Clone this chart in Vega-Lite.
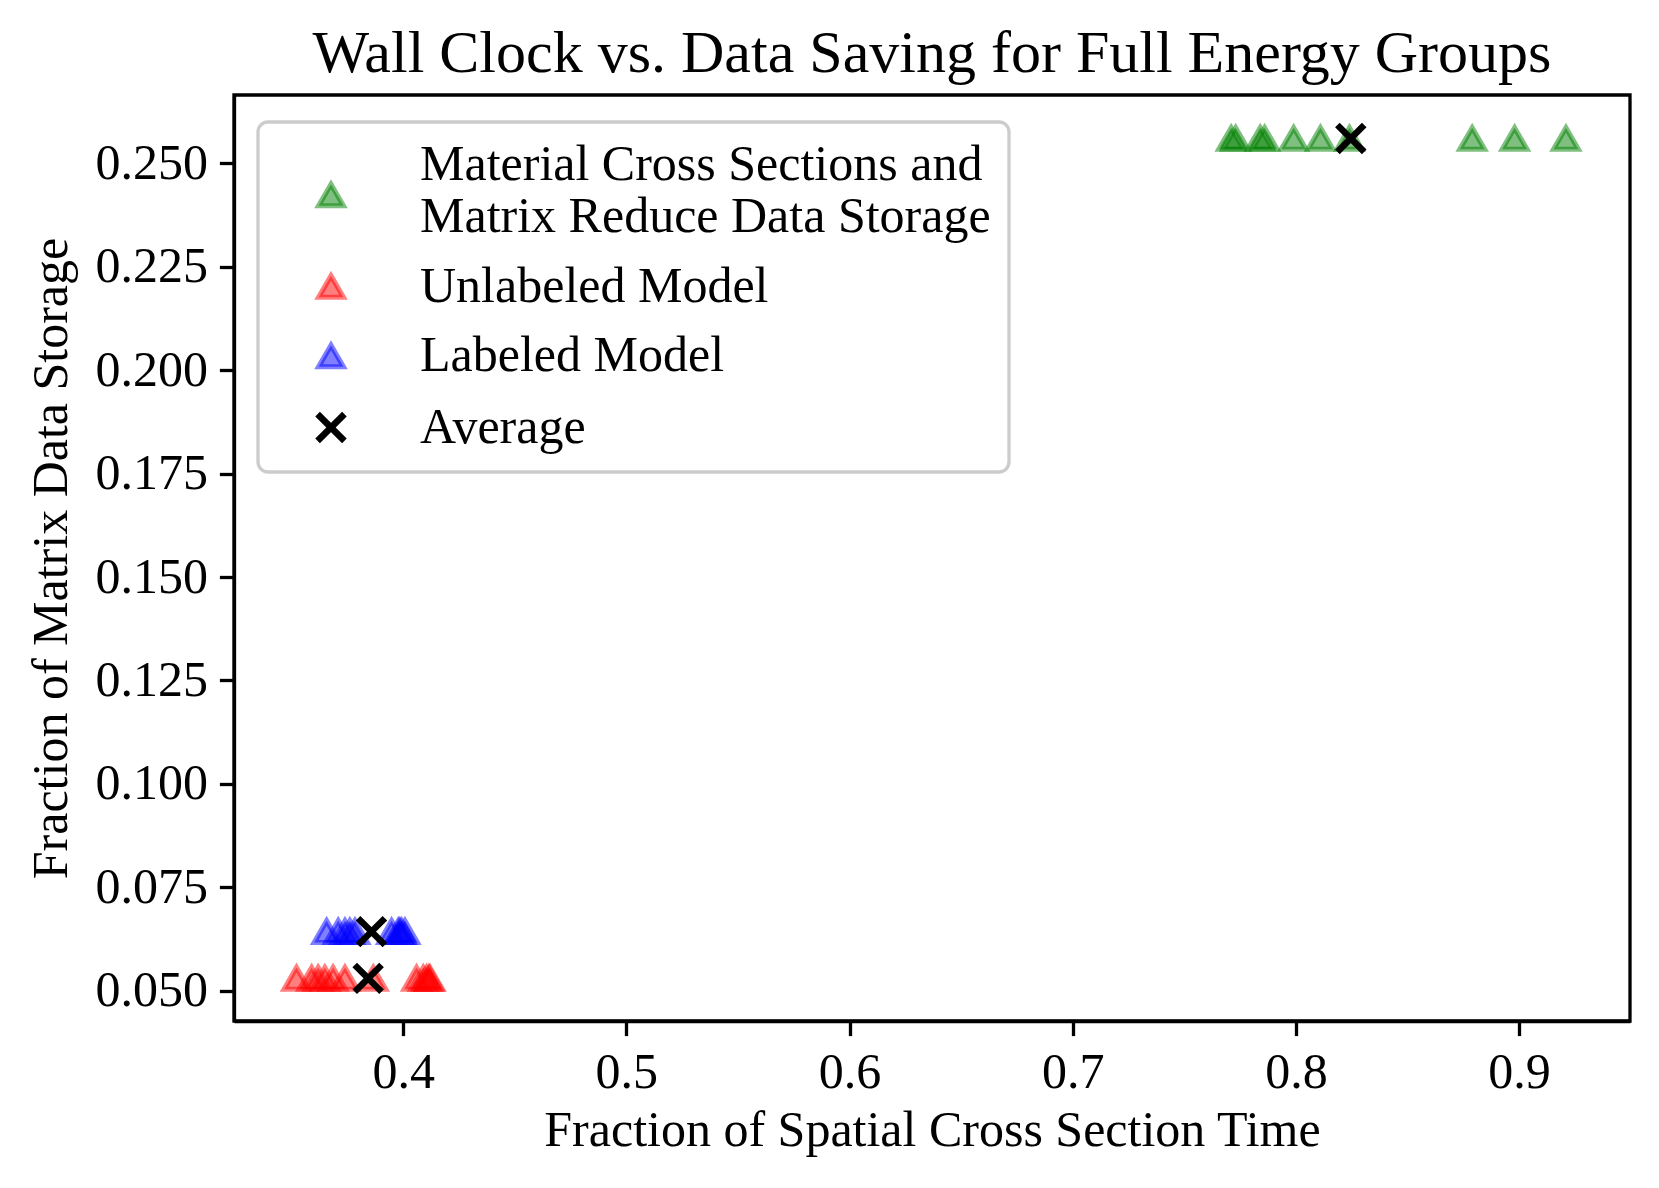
{
  "$schema": "https://vega.github.io/schema/vega-lite/v6.json",
  "width": 1396,
  "height": 926,
  "autosize": {"type": "none"},
  "padding": {"left": 234, "top": 95, "right": 29, "bottom": 167},
  "background": "white",
  "title": {
    "text": "Wall Clock vs. Data Saving for Full Energy Groups",
    "fontSize": 60,
    "fontWeight": "normal",
    "color": "black",
    "anchor": "middle",
    "offset": 10
  },
  "data": {
    "values": [
      {"series": "Material Cross Sections and Matrix Reduce Data Storage", "x": 0.771, "y": 0.256},
      {"series": "Material Cross Sections and Matrix Reduce Data Storage", "x": 0.773, "y": 0.256},
      {"series": "Material Cross Sections and Matrix Reduce Data Storage", "x": 0.784, "y": 0.256},
      {"series": "Material Cross Sections and Matrix Reduce Data Storage", "x": 0.786, "y": 0.256},
      {"series": "Material Cross Sections and Matrix Reduce Data Storage", "x": 0.799, "y": 0.256},
      {"series": "Material Cross Sections and Matrix Reduce Data Storage", "x": 0.811, "y": 0.256},
      {"series": "Material Cross Sections and Matrix Reduce Data Storage", "x": 0.824, "y": 0.256},
      {"series": "Material Cross Sections and Matrix Reduce Data Storage", "x": 0.879, "y": 0.256},
      {"series": "Material Cross Sections and Matrix Reduce Data Storage", "x": 0.898, "y": 0.256},
      {"series": "Material Cross Sections and Matrix Reduce Data Storage", "x": 0.921, "y": 0.256},
      {"series": "Unlabeled Model", "x": 0.3522, "y": 0.053},
      {"series": "Unlabeled Model", "x": 0.359, "y": 0.053},
      {"series": "Unlabeled Model", "x": 0.3619, "y": 0.053},
      {"series": "Unlabeled Model", "x": 0.3649, "y": 0.053},
      {"series": "Unlabeled Model", "x": 0.3686, "y": 0.053},
      {"series": "Unlabeled Model", "x": 0.3739, "y": 0.053},
      {"series": "Unlabeled Model", "x": 0.3866, "y": 0.053},
      {"series": "Unlabeled Model", "x": 0.406, "y": 0.053},
      {"series": "Unlabeled Model", "x": 0.409, "y": 0.053},
      {"series": "Unlabeled Model", "x": 0.4105, "y": 0.053},
      {"series": "Unlabeled Model", "x": 0.4115, "y": 0.053},
      {"series": "Unlabeled Model", "x": 0.412, "y": 0.053},
      {"series": "Labeled Model", "x": 0.3657, "y": 0.0643},
      {"series": "Labeled Model", "x": 0.3709, "y": 0.0643},
      {"series": "Labeled Model", "x": 0.3739, "y": 0.0643},
      {"series": "Labeled Model", "x": 0.3761, "y": 0.0643},
      {"series": "Labeled Model", "x": 0.3784, "y": 0.0643},
      {"series": "Labeled Model", "x": 0.3948, "y": 0.0643},
      {"series": "Labeled Model", "x": 0.3978, "y": 0.0643},
      {"series": "Labeled Model", "x": 0.3985, "y": 0.0643},
      {"series": "Labeled Model", "x": 0.3993, "y": 0.0643},
      {"series": "Labeled Model", "x": 0.4008, "y": 0.0643},
      {"series": "Average", "x": 0.8246, "y": 0.256},
      {"series": "Average", "x": 0.3843, "y": 0.053},
      {"series": "Average", "x": 0.3858, "y": 0.0643}
    ]
  },
  "mark": {"type": "point", "filled": true, "fillOpacity": 0.5},
  "encoding": {
    "x": {
      "field": "x",
      "type": "quantitative",
      "title": "Fraction of Spatial Cross Section Time",
      "scale": {"domain": [0.3242, 0.9497], "nice": false, "zero": false},
      "axis": {"values": [0.4, 0.5, 0.6, 0.7, 0.8, 0.9], "format": ".1f"}
    },
    "y": {
      "field": "y",
      "type": "quantitative",
      "title": "Fraction of Matrix Data Storage",
      "scale": {"domain": [0.0427, 0.2665], "nice": false, "zero": false},
      "axis": {"values": [0.05, 0.075, 0.1, 0.125, 0.15, 0.175, 0.2, 0.225, 0.25], "format": ".3f"}
    },
    "fill": {
      "field": "series",
      "type": "nominal",
      "scale": {
        "domain": ["Material Cross Sections and Matrix Reduce Data Storage", "Unlabeled Model", "Labeled Model", "Average"],
        "range": ["#008000", "#ff0000", "#0000ff", "#000000"]
      },
      "legend": {
        "title": null,
        "labelExpr": "datum.label == 'Material Cross Sections and Matrix Reduce Data Storage' ? ['Material Cross Sections and', 'Matrix Reduce Data Storage'] : datum.label",
        "encode": {
          "symbols": {
            "update": {
              "fillOpacity": {"value": 0.5},
              "strokeOpacity": {"signal": "datum.value == 'Average' ? 1 : 0.5"},
              "y": {"signal": "datum.size * 0.5 + (datum.value == 'Material Cross Sections and Matrix Reduce Data Storage' ? 30 : 0)"}
            }
          }
        }
      }
    },
    "stroke": {
      "field": "series",
      "type": "nominal",
      "scale": {
        "domain": ["Material Cross Sections and Matrix Reduce Data Storage", "Unlabeled Model", "Labeled Model", "Average"],
        "range": ["#008000", "#ff0000", "#0000ff", "#000000"]
      },
      "legend": {"title": null}
    },
    "shape": {
      "field": "series",
      "type": "nominal",
      "scale": {
        "domain": ["Material Cross Sections and Matrix Reduce Data Storage", "Unlabeled Model", "Labeled Model", "Average"],
        "range": ["triangle-up", "triangle-up", "triangle-up", "M-1,-1L1,1M1,-1L-1,1"]
      },
      "legend": {"title": null}
    },
    "strokeOpacity": {
      "field": "series",
      "type": "nominal",
      "scale": {
        "type": "ordinal",
        "domain": ["Material Cross Sections and Matrix Reduce Data Storage", "Unlabeled Model", "Labeled Model", "Average"],
        "range": [0.5, 0.5, 0.5, 1]
      },
      "legend": {"title": null}
    },
    "strokeWidth": {
      "field": "series",
      "type": "nominal",
      "scale": {
        "type": "ordinal",
        "domain": ["Material Cross Sections and Matrix Reduce Data Storage", "Unlabeled Model", "Labeled Model", "Average"],
        "range": [5, 5, 5, 6.5]
      },
      "legend": {"title": null}
    },
    "size": {
      "field": "series",
      "type": "nominal",
      "scale": {
        "type": "ordinal",
        "domain": ["Material Cross Sections and Matrix Reduce Data Storage", "Unlabeled Model", "Labeled Model", "Average"],
        "range": [620, 620, 620, 720]
      },
      "legend": {"title": null}
    }
  },
  "config": {
    "font": "Liberation Serif",
    "view": {"stroke": "black", "strokeWidth": 3.3},
    "axis": {
      "grid": false,
      "domainColor": "black",
      "domainWidth": 3.3,
      "tickColor": "black",
      "tickWidth": 3.3,
      "tickSize": 14.6,
      "labelFontSize": 50,
      "labelColor": "black",
      "labelPadding": 12,
      "titleFontSize": 50,
      "titleFontWeight": "normal",
      "titleColor": "black"
    },
    "axisX": {"titlePadding": 8},
    "axisY": {"titlePadding": 18},
    "legend": {
      "orient": "none",
      "legendX": 24,
      "legendY": 27,
      "padding": 18,
      "symbolOffset": 30,
      "labelOffset": 64,
      "labelFontSize": 50,
      "labelColor": "black",
      "labelLimit": 1200,
      "rowPadding": 19.5,
      "fillColor": "rgba(255,255,255,0.8)",
      "strokeColor": "#cccccc",
      "strokeWidth": 3.3,
      "cornerRadius": 10
    }
  }
}
